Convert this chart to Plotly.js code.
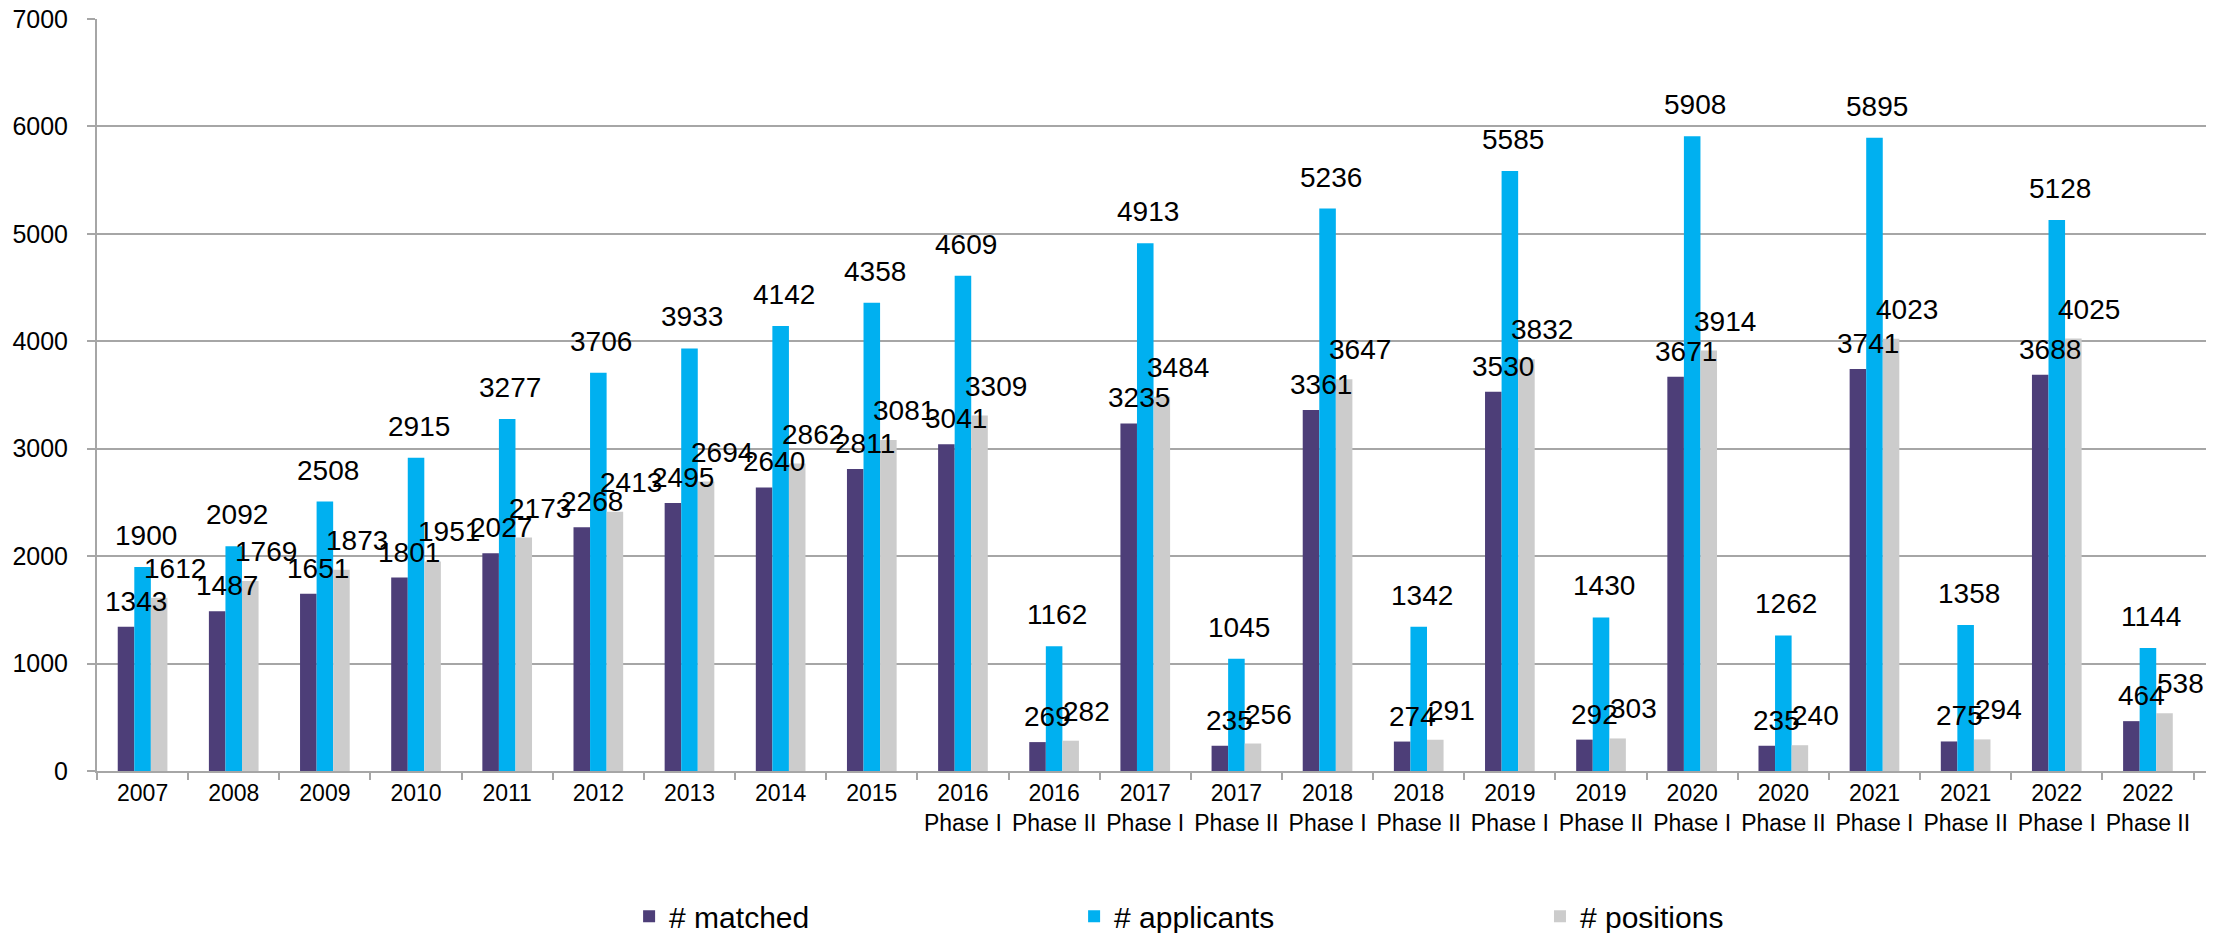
<!DOCTYPE html>
<html>
<head>
<meta charset="utf-8">
<script src="https://cdn.plot.ly/plotly-3.0.1.min.js"></script>
<style>
  html, body { margin: 0; padding: 0; background: #ffffff; }
  #chart { width: 2234px; height: 933px; }
</style>
</head>
<body>
<div id="chart"></div>
<script>
const categories = [
  "2007", "2008", "2009", "2010", "2011", "2012", "2013", "2014", "2015",
  "2016<br>Phase I", "2016<br>Phase II",
  "2017<br>Phase I", "2017<br>Phase II",
  "2018<br>Phase I", "2018<br>Phase II",
  "2019<br>Phase I", "2019<br>Phase II",
  "2020<br>Phase I", "2020<br>Phase II",
  "2021<br>Phase I", "2021<br>Phase II",
  "2022<br>Phase I", "2022<br>Phase II"
];
const matched = [1343, 1487, 1651, 1801, 2027, 2268, 2495, 2640, 2811, 3041, 269, 3235, 235, 3361, 274, 3530, 292, 3671, 235, 3741, 275, 3688, 464];
const applicants = [1900, 2092, 2508, 2915, 3277, 3706, 3933, 4142, 4358, 4609, 1162, 4913, 1045, 5236, 1342, 5585, 1430, 5908, 1262, 5895, 1358, 5128, 1144];
const positions = [1612, 1769, 1873, 1951, 2173, 2413, 2694, 2862, 3081, 3309, 282, 3484, 256, 3647, 291, 3832, 303, 3914, 240, 4023, 294, 4025, 538];
const seriesNames = ["# matched", "# applicants", "# positions"];
const yTicks = [0, 1000, 2000, 3000, 4000, 5000, 6000, 7000];

const colors = ["#4D3E78", "#00B0F0", "#CCCCCC"];
const FONT = "Liberation Sans, Arial, sans-serif";
const bargap = 0.455;
const barW = (1 - bargap) / 3;

const seriesData = [matched, applicants, positions];
const legends = ["legend", "legend2", "legend3"];

const traces = seriesData.map((vals, k) => ({
  type: "bar",
  name: seriesNames[k],
  x: categories,
  y: vals,
  marker: { color: colors[k], line: { width: 0 } },
  legend: legends[k],
  hoverinfo: "x+y+name"
}));

// label style offsets per series (px)
const labelStyle = [
  { dx: 10, dy: 8 },
  { dx: 3, dy: 14 },
  { dx: 16, dy: 12 }
];

const annotations = [];
seriesData.forEach((vals, k) => {
  vals.forEach((v, i) => {
    annotations.push({
      xref: "x", yref: "y",
      x: i + (k - 1) * barW,
      y: v,
      text: String(v),
      showarrow: false,
      xanchor: "center",
      yanchor: "bottom",
      xshift: labelStyle[k].dx,
      yshift: labelStyle[k].dy,
      font: { family: FONT, size: 28, color: "#000000" }
    });
  });
});

const legendBase = {
  orientation: "h",
  yanchor: "middle",
  xanchor: "left",
  y: -0.193,
  bgcolor: "rgba(0,0,0,0)",
  font: { family: FONT, size: 30, color: "#000000" }
};

const layout = {
  width: 2234,
  height: 933,
  margin: { l: 97, r: 28, t: 19, b: 162, autoexpand: false },
  paper_bgcolor: "#ffffff",
  plot_bgcolor: "#ffffff",
  font: { family: FONT, color: "#000000" },
  barmode: "group",
  bargap: bargap,
  bargroupgap: 0,
  showlegend: true,
  legend: Object.assign({}, legendBase, { x: 0.2523 }),
  legend2: Object.assign({}, legendBase, { x: 0.4633 }),
  legend3: Object.assign({}, legendBase, { x: 0.6842 }),
  xaxis: {
    type: "category",
    showline: true,
    linecolor: "#A6A6A6",
    linewidth: 2,
    ticks: "outside",
    tickson: "boundaries",
    ticklen: 7,
    tickwidth: 2,
    tickcolor: "#A6A6A6",
    showgrid: false,
    tickangle: 0,
    automargin: false,
    tickfont: { family: FONT, size: 23, color: "#000000" },
    fixedrange: true
  },
  yaxis: {
    range: [0, 7000],
    tickvals: yTicks,
    ticktext: yTicks.map(String),
    showline: true,
    linecolor: "#A6A6A6",
    linewidth: 2,
    ticks: "outside",
    ticklen: 8,
    tickwidth: 2,
    tickcolor: "#A6A6A6",
    showgrid: true,
    gridcolor: "#A6A6A6",
    gridwidth: 2,
    zeroline: false,
    automargin: false,
    ticklabelstandoff: 14,
    tickfont: { family: FONT, size: 25, color: "#000000" },
    fixedrange: true
  },
  annotations: annotations
};

Plotly.newPlot("chart", traces, layout, { displayModeBar: false, staticPlot: true });
</script>
</body>
</html>
